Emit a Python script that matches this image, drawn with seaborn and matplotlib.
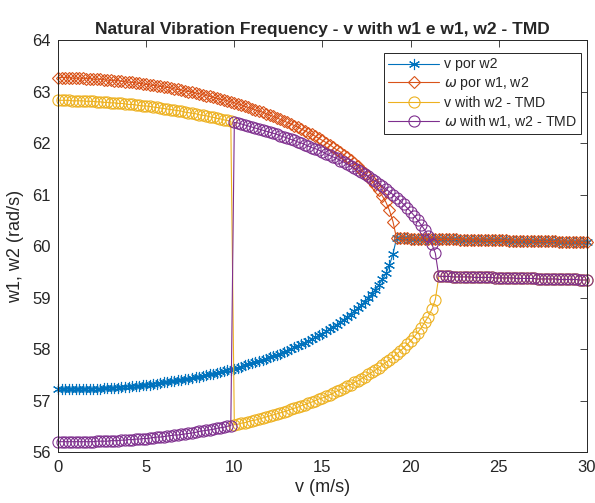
import numpy as np
import matplotlib
matplotlib.use('Agg')
import matplotlib.pyplot as plt
import seaborn as sns

# ========== 数据 (v = 0:0.2:30) ==========
v = np.round(np.linspace(0, 30, 151), 1)

# system without TMD: upper / lower branch up to v = 19.0, merged afterwards
w_upper = [
    63.27, 63.27, 63.27, 63.27, 63.26, 63.26, 63.26, 63.26, 63.25, 63.25,
    63.24, 63.24, 63.24, 63.23, 63.22, 63.22, 63.21, 63.21, 63.20, 63.19,
    63.18, 63.18, 63.17, 63.16, 63.15, 63.14, 63.13, 63.12, 63.11, 63.10,
    63.09, 63.08, 63.07, 63.05, 63.04, 63.03, 63.01, 63.00, 62.99, 62.97,
    62.96, 62.94, 62.92, 62.91, 62.89, 62.87, 62.85, 62.84, 62.82, 62.80,
    62.78, 62.76, 62.74, 62.71, 62.69, 62.67, 62.64, 62.62, 62.60, 62.57,
    62.54, 62.52, 62.49, 62.46, 62.43, 62.40, 62.37, 62.34, 62.31, 62.27,
    62.24, 62.20, 62.17, 62.13, 62.09, 62.05, 62.01, 61.97, 61.92, 61.87,
    61.83, 61.77, 61.72, 61.67, 61.61, 61.55, 61.48, 61.41, 61.34, 61.26,
    61.18, 61.08, 60.97, 60.85, 60.69, 60.47,
]
w_lower = [
    57.22, 57.22, 57.22, 57.22, 57.22, 57.22, 57.22, 57.22, 57.22, 57.23,
    57.23, 57.23, 57.23, 57.24, 57.24, 57.24, 57.25, 57.25, 57.26, 57.26,
    57.27, 57.28, 57.28, 57.29, 57.30, 57.30, 57.31, 57.32, 57.33, 57.34,
    57.35, 57.36, 57.37, 57.38, 57.39, 57.40, 57.41, 57.42, 57.44, 57.45,
    57.46, 57.48, 57.49, 57.51, 57.52, 57.54, 57.55, 57.57, 57.59, 57.60,
    57.62, 57.64, 57.66, 57.68, 57.70, 57.72, 57.74, 57.77, 57.79, 57.81,
    57.84, 57.86, 57.89, 57.91, 57.94, 57.97, 58.00, 58.03, 58.06, 58.09,
    58.12, 58.16, 58.19, 58.23, 58.27, 58.30, 58.34, 58.39, 58.43, 58.47,
    58.52, 58.57, 58.62, 58.67, 58.73, 58.79, 58.85, 58.92, 58.99, 59.07,
    59.15, 59.25, 59.35, 59.47, 59.63, 59.85,
]
w_merged = [
    60.15, 60.15, 60.15, 60.15, 60.14, 60.14, 60.14, 60.14, 60.14, 60.14,
    60.14, 60.13, 60.13, 60.13, 60.13, 60.13, 60.13, 60.13, 60.12, 60.12,
    60.12, 60.12, 60.12, 60.12, 60.12, 60.11, 60.11, 60.11, 60.11, 60.11,
    60.11, 60.11, 60.10, 60.10, 60.10, 60.10, 60.10, 60.10, 60.10, 60.09,
    60.09, 60.09, 60.09, 60.09, 60.09, 60.09, 60.08, 60.08, 60.08, 60.08,
    60.08, 60.08, 60.07, 60.07, 60.07,
]

# system with TMD: upper / lower branch up to v = 21.4, merged afterwards
tmd_upper = [
    62.83, 62.83, 62.83, 62.83, 62.82, 62.82, 62.82, 62.82, 62.81, 62.81,
    62.81, 62.80, 62.80, 62.79, 62.79, 62.78, 62.78, 62.77, 62.77, 62.76,
    62.75, 62.75, 62.74, 62.73, 62.72, 62.72, 62.71, 62.70, 62.69, 62.68,
    62.67, 62.66, 62.65, 62.64, 62.63, 62.62, 62.60, 62.59, 62.58, 62.57,
    62.55, 62.54, 62.53, 62.51, 62.50, 62.48, 62.47, 62.45, 62.44, 62.42,
    62.40, 62.39, 62.37, 62.35, 62.33, 62.31, 62.29, 62.27, 62.25, 62.23,
    62.21, 62.19, 62.17, 62.14, 62.12, 62.10, 62.07, 62.05, 62.02, 62.00,
    61.97, 61.94, 61.91, 61.89, 61.86, 61.83, 61.79, 61.76, 61.73, 61.70,
    61.66, 61.63, 61.59, 61.55, 61.51, 61.48, 61.43, 61.39, 61.35, 61.30,
    61.26, 61.21, 61.16, 61.11, 61.05, 61.00, 60.94, 60.88, 60.81, 60.74,
    60.67, 60.59, 60.50, 60.41, 60.31, 60.19, 60.04, 59.86,
]
tmd_lower = [
    56.20, 56.20, 56.20, 56.20, 56.20, 56.20, 56.20, 56.20, 56.20, 56.20,
    56.20, 56.21, 56.21, 56.21, 56.21, 56.22, 56.22, 56.22, 56.23, 56.23,
    56.24, 56.24, 56.25, 56.25, 56.26, 56.26, 56.27, 56.28, 56.29, 56.29,
    56.30, 56.31, 56.32, 56.33, 56.33, 56.34, 56.35, 56.36, 56.37, 56.38,
    56.40, 56.41, 56.42, 56.43, 56.44, 56.46, 56.47, 56.48, 56.50, 56.51,
    56.53, 56.54, 56.56, 56.57, 56.59, 56.61, 56.62, 56.64, 56.66, 56.68,
    56.70, 56.72, 56.74, 56.76, 56.78, 56.80, 56.83, 56.85, 56.87, 56.90,
    56.92, 56.95, 56.97, 57.00, 57.03, 57.05, 57.08, 57.11, 57.14, 57.18,
    57.21, 57.24, 57.28, 57.31, 57.35, 57.38, 57.42, 57.46, 57.51, 57.55,
    57.59, 57.64, 57.69, 57.74, 57.79, 57.84, 57.90, 57.96, 58.02, 58.09,
    58.16, 58.24, 58.32, 58.41, 58.52, 58.63, 58.77, 58.96,
]
tmd_merged = [
    59.41, 59.41, 59.41, 59.41, 59.40, 59.40, 59.40, 59.40, 59.40, 59.40,
    59.39, 59.39, 59.39, 59.39, 59.39, 59.39, 59.38, 59.38, 59.38, 59.38,
    59.38, 59.38, 59.37, 59.37, 59.37, 59.37, 59.37, 59.37, 59.36, 59.36,
    59.36, 59.36, 59.36, 59.36, 59.35, 59.35, 59.35, 59.35, 59.35, 59.35,
    59.34, 59.34, 59.34,
]
SWITCH = 50  # solver swaps the TMD branches between v = 9.8 and v = 10.0

labels = ['v por w2', r'$\omega$ por w1, w2', 'v with w2 - TMD', r'$\omega$ with w1, w2 - TMD']

# ========== 图表风格 ==========
sns.set_style('white')
plt.rcParams['font.family'] = ['Liberation Sans', 'DejaVu Sans']
plt.rcParams['mathtext.fontset'] = 'dejavusans'
COLORS = ['#0072BD', '#D95319', '#EDB120', '#7E2F8E']
MARKERS = [(6, 2, 0), 'D', 'o', 'o']
SIZES = [8, 6, 8, 8]
DARK = '#262626'

series = [
    w_lower + w_merged,
    w_upper + w_merged,
    tmd_upper[:SWITCH] + tmd_lower[SWITCH:] + tmd_merged,
    tmd_lower[:SWITCH] + tmd_upper[SWITCH:] + tmd_merged,
]

fig = plt.figure(figsize=(5.95, 5.03), dpi=100)
ax = fig.add_axes([0.0975, 0.1014, 0.889, 0.819])

for y, label, color, marker, ms in zip(series, labels, COLORS, MARKERS, SIZES):
    sns.lineplot(x=v, y=y, ax=ax, sort=False, estimator=None, label=label,
                 color=color, linewidth=0.8, marker=marker, markersize=ms,
                 markerfacecolor='none', markeredgecolor=color,
                 markeredgewidth=0.8, clip_on=False)

ax.set_xlim(0, 30)
ax.set_ylim(56, 64)
ax.set_xticks(range(0, 31, 5))
ax.set_yticks(range(56, 65))
ax.tick_params(direction='in', top=True, right=True, length=5, width=0.6,
               labelsize=12, color=DARK, labelcolor=DARK)
ax.tick_params(axis='x', pad=6)
ax.tick_params(axis='y', pad=5)
for sp in ax.spines.values():
    sp.set_linewidth(0.7)
    sp.set_color(DARK)

ax.set_xlabel('v (m/s)', fontsize=13, color=DARK, labelpad=3)
ax.set_ylabel('w1, w2 (rad/s)', fontsize=13, color=DARK, labelpad=6)
ax.set_title('Natural Vibration Frequency - v with w1 e w1, w2 - TMD',
             fontsize=12.5, fontweight='bold', pad=4)

leg = ax.legend(loc='upper right', bbox_to_anchor=(0.989, 0.968), borderaxespad=0,
                fancybox=False, edgecolor=DARK, framealpha=1, fontsize=10.2,
                handlelength=3.6, handletextpad=0.3, labelspacing=0.25,
                borderpad=0.3)
leg.get_frame().set_linewidth(0.7)

fig.savefig('out.png', dpi=100)
